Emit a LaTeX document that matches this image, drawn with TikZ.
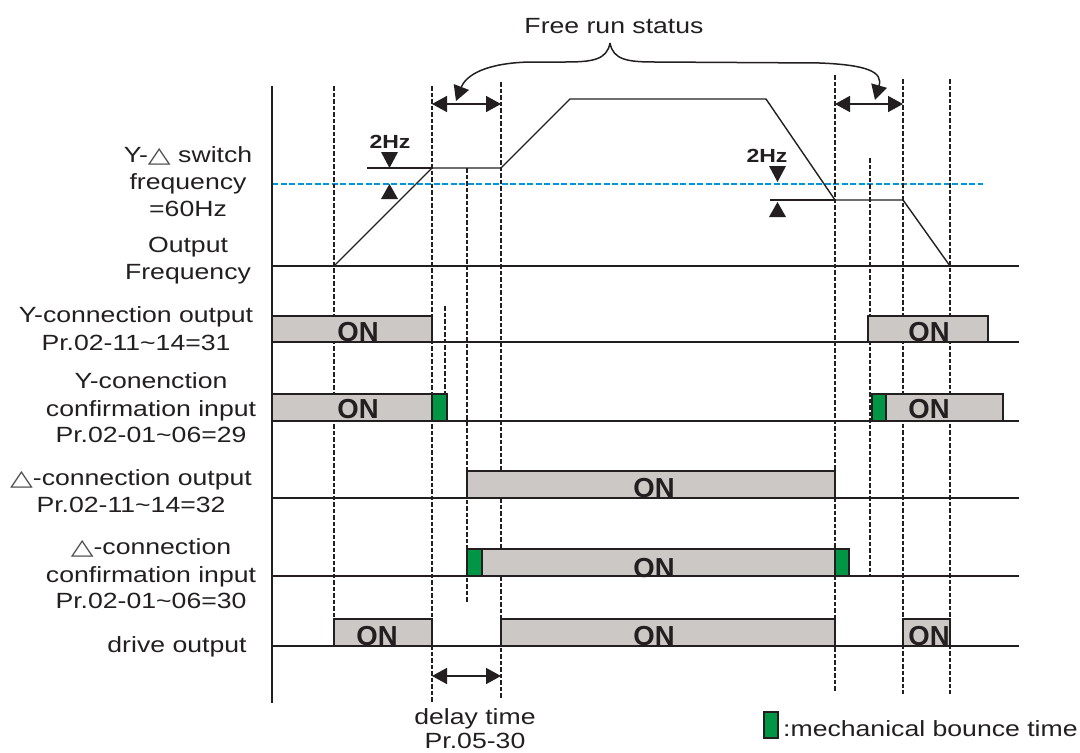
\documentclass[tikz,border=0pt]{standalone}
\usepackage{fontspec}
\setmainfont{Liberation Sans}[FakeStretch=1.21]
\newfontfamily\onfont{Liberation Sans}
\newfontfamily\symf{DejaVu Sans}[FakeStretch=1.35]
\usetikzlibrary{arrows.meta}
\definecolor{ink}{RGB}{35,31,32}
\definecolor{boxgray}{RGB}{204,200,197}
\definecolor{bgreen}{RGB}{0,150,70}
\definecolor{lblue}{RGB}{0,150,220}
\newcommand{\dtri}{{\symf\color{ink!80}△}}
\tikzset{
  lab/.style={font=\fontsize{22}{27}\selectfont, anchor=base, inner sep=0pt, text=ink},
  hz/.style={font=\fontsize{19}{22}\selectfont\bfseries, anchor=base, inner sep=0pt, text=ink},
  ontxt/.style={font=\onfont\fontsize{27.5}{30}\selectfont\bfseries, anchor=base, inner sep=0pt, text=ink},
  solidln/.style={draw=ink, line width=1.4pt},
  vdash/.style={draw=ink, line width=2pt, dash pattern=on 4.5pt off 2pt},
  bluedash/.style={draw=lblue, line width=1.9pt, dash pattern=on 6pt off 2.5pt},
  onbox/.style={fill=boxgray, draw=ink, line width=1.2pt},
  bounce/.style={fill=bgreen, draw=ink, line width=1.2pt},
  dimarr/.style={draw=ink, line width=1.6pt, {Triangle[length=15pt,width=16pt]}-{Triangle[length=15pt,width=16pt]}},
  bracearr/.style={draw=ink, line width=1.5pt, -{Triangle[length=15pt,width=16pt]}}
}
\begin{document}
\begin{tikzpicture}[x=1pt,y=-1pt]
\useasboundingbox[fill=white] (0,0) rectangle (1080,753);

% blue switch-frequency line
\draw[bluedash] (272,184) -- (983,184);

% vertical dashed markers
\draw[vdash] (334,86) -- (334,619);
\draw[vdash] (432,86) -- (432,703);
\draw[vdash] (467,168) -- (467,602);
\draw[vdash, line width=1.6pt] (445,306) -- (445,394);
\draw[vdash] (501,82) -- (501,698);
\draw[vdash] (835,75) -- (835,691);
\draw[vdash] (870,158) -- (870,576);
\draw[vdash] (903,79) -- (903,694);
\draw[vdash] (950,79) -- (950,694);

% axis and baselines
\draw[solidln] (272,86) -- (272,703);
\draw[solidln] (272,266) -- (1019,266);
\draw[solidln] (272,342) -- (1019,342);
\draw[solidln] (272,421) -- (1019,421);
\draw[solidln] (272,498) -- (1019,498);
\draw[solidln] (272,576) -- (1019,576);
\draw[solidln] (272,646) -- (1019,646);

% output frequency curve
\draw[solidln, line join=round] (334,266) -- (432,168) -- (501,168) -- (570,99) -- (766,99) -- (835,200) -- (903,200) -- (950,266);
\draw[solidln] (367,168) -- (432,168);
\draw[solidln] (770,200) -- (835,200);

% 2Hz markers
\fill[ink] (381,152) -- (398,152) -- (389.5,168) -- cycle;
\fill[ink] (381,199) -- (398,199) -- (389.5,184) -- cycle;
\node[hz] (hz1) at (390,148) {2Hz};
\fill[ink] (769,166) -- (786,166) -- (777.5,182) -- cycle;
\fill[ink] (769,217) -- (786,217) -- (777.5,202) -- cycle;
\node[hz] (hz2) at (767,162) {2Hz};

% ON boxes
\draw[onbox] (272,316) rectangle (432,342);
\draw[onbox] (868,316) rectangle (988,342);
\draw[onbox] (272,394) rectangle (432,421);
\draw[bounce] (432,394) rectangle (447,421);
\draw[bounce] (872,394) rectangle (886,421);
\draw[onbox] (886,394) rectangle (1003,421);
\draw[onbox] (467,471) rectangle (835,498);
\draw[bounce] (467,549) rectangle (482,576);
\draw[onbox] (482,549) rectangle (835,576);
\draw[bounce] (835,549) rectangle (849,576);
\draw[onbox] (334,619) rectangle (432,646);
\draw[onbox] (501,619) rectangle (835,646);
\draw[onbox] (903,619) rectangle (950,646);

\node[ontxt] (on1) at (358,341) {ON};
\node[ontxt] (on2) at (929,341) {ON};
\node[ontxt] (on3) at (358,418) {ON};
\node[ontxt] (on4) at (929,418) {ON};
\node[ontxt] (on5) at (654,497) {ON};
\node[ontxt] (on6) at (654,577) {ON};
\node[ontxt] (on7) at (377,645) {ON};
\node[ontxt] (on8) at (654,645) {ON};
\node[ontxt] (on9) at (929,645) {ON};

% dimension arrows
\coordinate (fa1) at (432,104); \coordinate (fa2) at (501,104);
\coordinate (fb1) at (835,104); \coordinate (fb2) at (903,104);
\coordinate (da1) at (432,676); \coordinate (da2) at (501,676);
\draw[dimarr] (fa1) -- (fa2);
\draw[dimarr] (fb1) -- (fb2);
\draw[dimarr] (da1) -- (da2);

% free run brace
\coordinate (btip) at (610,43);
\coordinate (bl) at (456,101);
\coordinate (br) at (875,100);
\draw[bracearr] (btip) .. controls (607,60) and (592,62) .. (565,62) -- (530,62) .. controls (486,63) and (466,75) .. (bl);
\draw[bracearr] (btip) .. controls (613,60) and (628,62) .. (655,62) -- (820,63) .. controls (868,65) and (883,72) .. (br);
\node[lab] (free) at (614,33) {Free run status};

% left labels
\node[lab] (l1a) at (188,162) {Y-\dtri{} switch};
\node[lab] (l1b) at (188,189) {frequency};
\node[lab] (l1c) at (188,216) {=60Hz};
\node[lab] (l2a) at (188,252) {Output};
\node[lab] (l2b) at (188,279) {Frequency};
\node[lab] (l3a) at (136,322) {Y-connection output};
\node[lab] (l3b) at (136,350) {Pr.02-11\textasciitilde14=31};
\node[lab] (l4a) at (151,388) {Y-conenction};
\node[lab] (l4b) at (151,416) {confirmation input};
\node[lab] (l4c) at (151,442) {Pr.02-01\textasciitilde06=29};
\node[lab] (l5a) at (131,485) {\dtri-connection output};
\node[lab] (l5b) at (131,512) {Pr.02-11\textasciitilde14=32};
\node[lab] (l6a) at (151,554) {\dtri-connection};
\node[lab] (l6b) at (151,582) {confirmation input};
\node[lab] (l6c) at (151,608) {Pr.02-01\textasciitilde06=30};
\node[lab] (l7) at (177,652) {drive output};

% bottom labels
\node[lab] (dl1) at (475,724) {delay time};
\node[lab] (dl2) at (475,748) {Pr.05-30};

% legend
\draw[bounce] (764,712) rectangle (778,738);
\node[lab, anchor=base west] (leg) at (783,736) {:mechanical bounce time};
\end{tikzpicture}
\end{document}
